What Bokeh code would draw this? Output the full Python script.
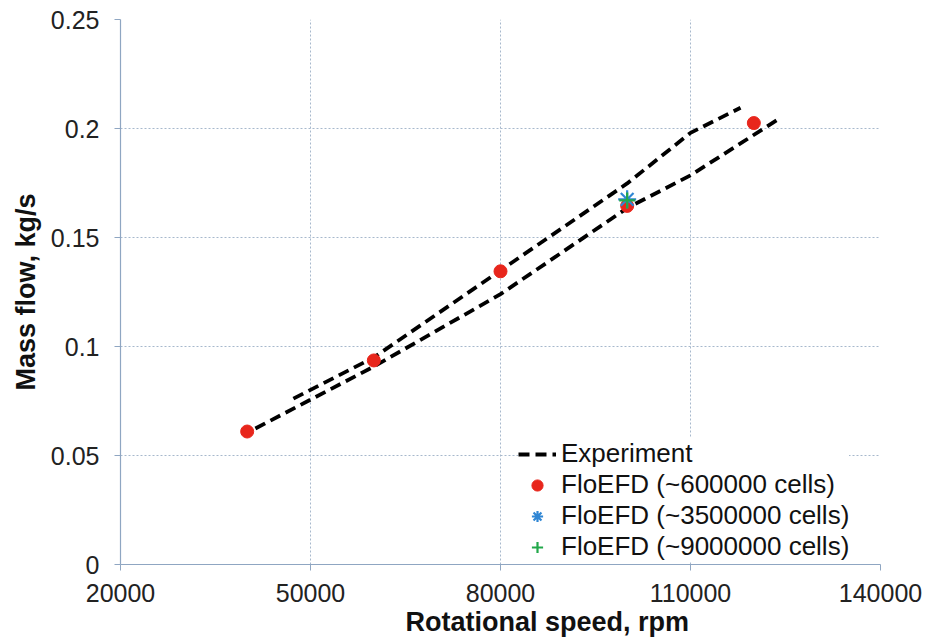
from bokeh.plotting import figure
from bokeh.models import FixedTicker, Range1d, Legend, LegendItem, Title
from bokeh.embed import file_html
from bokeh.resources import INLINE

# Experiment curves (two dashed branches)
exp_upper_x = [47300, 60000, 80000, 100000, 110000, 117900]
exp_upper_y = [0.0761, 0.0950, 0.1349, 0.1748, 0.1980, 0.2095]
exp_lower_x = [41300, 60000, 80000, 100000, 110000, 124000]
exp_lower_y = [0.0624, 0.0908, 0.1240, 0.1635, 0.1785, 0.2045]

# FloEFD results
cfd600k_x = [40000, 60000, 80000, 100000, 120000]
cfd600k_y = [0.0610, 0.0936, 0.1345, 0.1645, 0.2025]
cfd3500k_x = [100000]
cfd3500k_y = [0.1675]
cfd9000k_x = [100000]
cfd9000k_y = [0.1670]

x_ticks = [20000, 50000, 80000, 110000, 140000]
y_ticks = [0, 0.05, 0.1, 0.15, 0.2, 0.25]

FONT = "Liberation Sans"
AXIS_COL = "#8fa6c2"
GRID_COL = "#a7b8cc"

p = figure(frame_width=760, frame_height=545, min_border_left=120, min_border_right=64,
           min_border_top=19, min_border_bottom=77,
           x_range=Range1d(20000, 140000), y_range=Range1d(0, 0.25),
           output_backend="svg", toolbar_location=None)
p.outline_line_color = None
p.background_fill_color = "white"
p.border_fill_color = "white"

for ax, ticks in ((p.xaxis[0], x_ticks), (p.yaxis[0], y_ticks)):
    ax.ticker = FixedTicker(ticks=ticks)
    ax.axis_line_color = AXIS_COL
    ax.axis_line_width = 1.2
    ax.major_tick_line_color = AXIS_COL
    ax.major_tick_out = 6
    ax.major_tick_in = 0
    ax.minor_tick_line_color = None
    ax.major_label_text_font = FONT
    ax.major_label_text_font_size = "25px"
    ax.major_label_text_color = "#222222"
    ax.axis_label_text_font = FONT
    ax.axis_label_text_font_size = "27px"
    ax.axis_label_text_font_style = "bold"
    ax.axis_label_text_color = "#111111"

p.yaxis[0].axis_label = "Mass flow, kg/s"
p.yaxis[0].major_label_standoff = 15
p.xaxis[0].major_label_standoff = 13
p.yaxis[0].axis_label_standoff = 7

p.xaxis[0].formatter.use_scientific = False
p.yaxis[0].formatter.use_scientific = False

# x-axis title (sits right of the frame centre, as in the original)
xtitle = Title(text="Rotational speed, rpm", align="left", offset=285,
               text_font=FONT, text_font_size="27px", text_font_style="bold",
               text_color="#111111", standoff=0)
p.add_layout(xtitle, "below")

for g in (p.xgrid[0], p.ygrid[0]):
    g.grid_line_color = GRID_COL
    g.grid_line_dash = "2 2"
    g.grid_line_width = 1

r_up = p.line(exp_upper_x, exp_upper_y, line_color="black", line_width=3.8, line_dash="11 6")
r_lo = p.line(exp_lower_x, exp_lower_y, line_color="black", line_width=3.8, line_dash="11 6")
r1 = p.scatter(cfd600k_x, cfd600k_y, marker="circle", size=13, fill_color="#e8261c", line_color="#e8261c")
r2 = p.scatter(cfd3500k_x, cfd3500k_y, marker="asterisk", size=18, line_color="#2f86d4", line_width=2.2)
r3 = p.scatter(cfd9000k_x, cfd9000k_y, marker="cross", size=16, line_color="#22a84a", line_width=2.2)

legend = Legend(items=[
    LegendItem(label="Experiment", renderers=[r_up]),
    LegendItem(label="FloEFD (~600000 cells)", renderers=[r1]),
    LegendItem(label="FloEFD (~3500000 cells)", renderers=[r2]),
    LegendItem(label="FloEFD (~9000000 cells)", renderers=[r3]),
], location=(398, 2))
legend.label_text_font = FONT
legend.label_text_font_size = "26px"
legend.label_text_line_height = 1.0
legend.label_text_color = "#111111"
legend.label_standoff = 5
legend.glyph_width = 38
legend.glyph_height = 28
legend.label_height = 28
legend.spacing = 0
legend.padding = 4
legend.margin = 0
legend.border_line_color = None
legend.background_fill_color = "white"
legend.background_fill_alpha = 1.0
p.add_layout(legend, "center")

open("out.html", "w").write(file_html(p, INLINE))
